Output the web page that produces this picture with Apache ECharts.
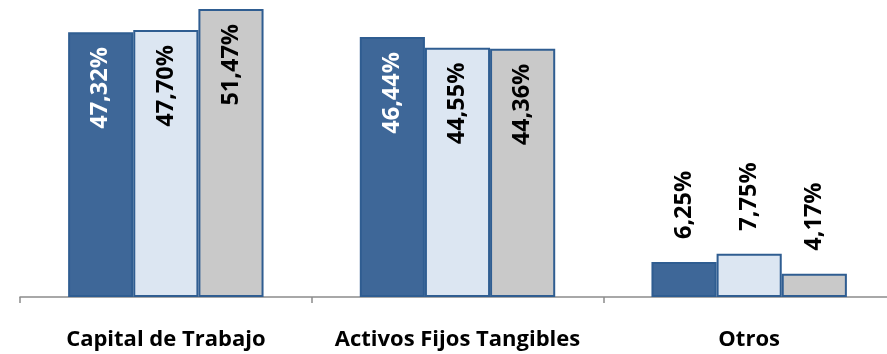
<!DOCTYPE html>
<html><head><meta charset="utf-8">
<script src="https://cdn.jsdelivr.net/npm/echarts@6/dist/echarts.min.js"></script>
<style>html,body{margin:0;padding:0;background:#fff;overflow:hidden;width:887px;height:354px}#c{width:895px;height:354px}</style>
</head><body><div id="c"></div>
<script>
const categories = ['Capital de Trabajo', 'Activos Fijos Tangibles', 'Otros'];
const serieA = [47.32, 46.44, 6.25];
const serieB = [47.70, 44.55, 7.75];
const serieC = [51.47, 44.36, 4.17];

const FONT = '"Open Sans", sans-serif';
function fmt(v){ return v.toFixed(2).replace('.', ',') + '%'; }
function makeData(vals, color){
  return vals.map(v => {
    const small = v < 20;
    return {
      value: v,
      label: small ? {
        position: 'top', rotate: 90, align: 'left', verticalAlign: 'middle',
        distance: 23, color: '#000'
      } : {
        position: 'insideTop', rotate: 90, align: 'right', verticalAlign: 'middle',
        distance: 15, color: color
      }
    };
  });
}
function series(vals, fill, lblColor){
  return {
    type: 'bar', barGap: 0, barCategoryGap: '33%',
    itemStyle: { color: fill, borderColor: '#2f5d91', borderWidth: 2 },
    label: { show: true, fontFamily: FONT, fontWeight: 'bold', fontSize: 23.5,
      formatter: p => fmt(p.value) },
    data: makeData(vals, lblColor)
  };
}
const chart = echarts.init(document.getElementById('c'));
chart.setOption({
  animation: false,
  grid: { left: 20, top: 6, bottom: 57, right: 0, containLabel: false },
  xAxis: {
    type: 'category', data: categories,
    axisLine: { lineStyle: { color: '#8c8c8c', width: 1.5 } },
    axisTick: { show: true, length: 6, lineStyle: { color: '#8c8c8c', width: 1.5 } },
    axisLabel: { interval: 0, hideOverlap: false, fontFamily: FONT, fontWeight: 'bold', fontSize: 22, color: '#000', margin: 32 }
  },
  yAxis: { type: 'value', min: 0, max: 52, show: false, splitLine: { show: false } },
  series: [
    series(serieA, '#3e6798', '#fff'),
    series(serieB, '#dce6f2', '#000'),
    series(serieC, '#c9c9c9', '#000')
  ]
});
</script></body></html>
